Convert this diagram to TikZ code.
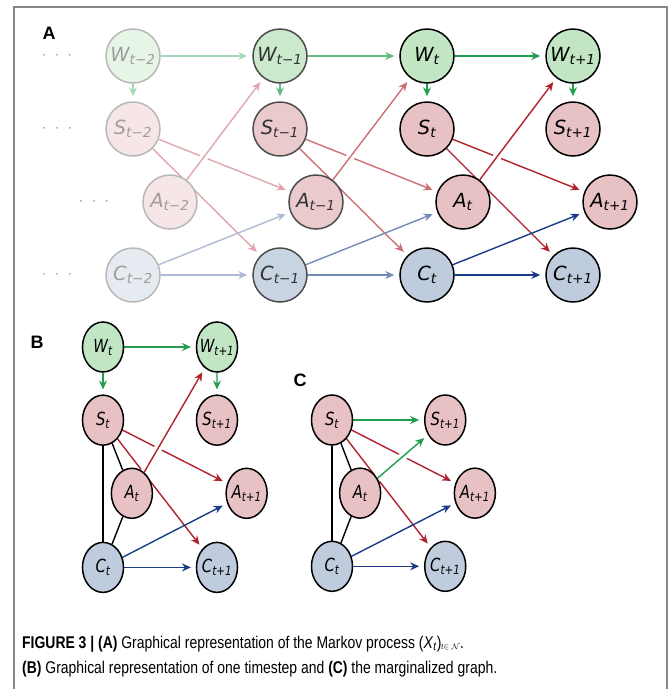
\documentclass[tikz,border=0pt]{standalone}
\usepackage{fontspec}
\usepackage{tikz}
\usetikzlibrary{arrows.meta,backgrounds}
\newfontfamily\capfont[FakeStretch=0.82]{Liberation Sans}
\newfontfamily\labfont{Liberation Sans}
\newfontfamily\varfont{DejaVu Sans}
\definecolor{mkgreen}{RGB}{30,158,78}
\definecolor{mkred}{RGB}{176,34,44}
\definecolor{mkblue}{RGB}{26,60,134}
\definecolor{gfill}{RGB}{194,229,195}
\definecolor{rfill}{RGB}{232,193,196}
\definecolor{bfill}{RGB}{191,204,221}
\definecolor{framegray}{RGB}{135,135,135}
\newcommand{\nv}[2]{#1\textsubscript{#2}}

\begin{document}
\begin{tikzpicture}[x=1pt, y=-1pt,
      vnode/.style={circle, minimum size=54pt, inner sep=0pt, line width=1.5pt, font=\varfont\itshape\fontsize{19.5}{24}\selectfont},
      far/.style={draw=black!28, text=black!38},
      mid/.style={draw=black!70, text=black!80},
      now/.style={draw=black, text=black},
      arr/.style={draw=#1, line width=1.4pt, -{Stealth[length=9pt,width=8pt,inset=3pt]}, shorten >=5pt},
      halo/.style={preaction={draw=white, line width=8pt, -}},
      link/.style={draw=black, line width=1.4pt},
      dots/.style={text=black!55, font=\fontsize{18}{18}\selectfont},
      panel/.style={font=\labfont\bfseries\fontsize{18}{18}\selectfont},
      captext/.style={anchor=base west, inner sep=0pt, font=\capfont\fontsize{17}{20}\selectfont}
    ]
      \useasboundingbox (0,0) rectangle (672,689);
      \draw[framegray, line width=1.2pt] (14,689) -- (14,7) -- (667,7) -- (667,689);

      % Panel A
      \node[panel] (labA) at (49,33) {A};
      \node[dots] (dotsW) at (57,58) {···};
      \node[dots] (dotsS) at (57,131) {···};
      \node[dots] (dotsA) at (94,204) {···};
      \node[dots] (dotsC) at (57,277) {···};

      \node[vnode, far, fill=gfill!40] (w0) at (133,56) {\nv{W}{t−2}};
      \node[vnode, mid, fill=gfill!85] (w1) at (280,56) {\nv{W}{t−1}};
      \node[vnode, now, fill=gfill] (w2) at (427,56) {\nv{W}{t}};
      \node[vnode, now, fill=gfill] (w3) at (573,56) {\nv{W}{t+1}};

      \node[vnode, far, fill=rfill!40] (s0) at (133,129) {\nv{S}{t−2}};
      \node[vnode, mid, fill=rfill!85] (s1) at (280,129) {\nv{S}{t−1}};
      \node[vnode, now, fill=rfill] (s2) at (427,129) {\nv{S}{t}};
      \node[vnode, now, fill=rfill] (s3) at (573,129) {\nv{S}{t+1}};

      \node[vnode, far, fill=rfill!40] (a0) at (170,202) {\nv{A}{t−2}};
      \node[vnode, mid, fill=rfill!85] (a1) at (316,202) {\nv{A}{t−1}};
      \node[vnode, now, fill=rfill] (a2) at (463,202) {\nv{A}{t}};
      \node[vnode, now, fill=rfill] (a3) at (610,202) {\nv{A}{t+1}};

      \node[vnode, far, fill=bfill!40] (c0) at (133,275) {\nv{C}{t−2}};
      \node[vnode, mid, fill=bfill!85] (c1) at (280,275) {\nv{C}{t−1}};
      \node[vnode, now, fill=bfill] (c2) at (427,275) {\nv{C}{t}};
      \node[vnode, now, fill=bfill] (c3) at (573,275) {\nv{C}{t+1}};

      % Panel B
      \node[panel] (labB) at (37,342) {B};
      \begin{scope}[shift={(103,347)}, xscale=0.76, yscale=0.926, transform shape]
        \node[vnode, now, fill=gfill] (wb0) at (0,0) {\nv{W}{t}};
        \node[vnode, now, fill=gfill] (wb1) at (150,0) {\nv{W}{t+1}};
        \node[vnode, now, fill=rfill] (sb0) at (0,79) {\nv{S}{t}};
        \node[vnode, now, fill=rfill] (sb1) at (150,79) {\nv{S}{t+1}};
        \node[vnode, now, fill=rfill] (ab0) at (38,158) {\nv{A}{t}};
        \node[vnode, now, fill=rfill] (ab1) at (189,158) {\nv{A}{t+1}};
        \node[vnode, now, fill=bfill] (cb0) at (0,238) {\nv{C}{t}};
        \node[vnode, now, fill=bfill] (cb1) at (150,238) {\nv{C}{t+1}};
      \end{scope}

      % Panel C
      \node[panel] (labC) at (300,380) {C};
      \begin{scope}[shift={(332,420)}, xscale=0.76, yscale=0.926, transform shape]
        \node[vnode, now, fill=rfill] (sc0) at (0,0) {\nv{S}{t}};
        \node[vnode, now, fill=rfill] (sc1) at (149,0) {\nv{S}{t+1}};
        \node[vnode, now, fill=rfill] (ac0) at (37,79) {\nv{A}{t}};
        \node[vnode, now, fill=rfill] (ac1) at (188,79) {\nv{A}{t+1}};
        \node[vnode, now, fill=bfill] (cc0) at (0,158) {\nv{C}{t}};
        \node[vnode, now, fill=bfill] (cc1) at (149,158) {\nv{C}{t+1}};
      \end{scope}

      % caption
      \node[captext] (cap1) at (22,648) {\textbf{FIGURE 3 | (A)} Graphical representation of the Markov process (\textit{X}\textsubscript{\textit{t}}){\fontsize{12}{12}\selectfont\textsubscript{\textit{t}$\in\mathcal{N}$}}.};
      \node[captext] (cap2) at (22,673) {\textbf{(B)} Graphical representation of one timestep and \textbf{(C)} the marginalized graph.};

      % connectors
      \begin{scope}[on background layer]
        % A: t-2
        \draw[arr=mkgreen!40] (w0) -- (w1);
        \draw[arr=mkgreen!40] (w0) -- (s0);
        \draw[arr=mkred!40] (s0) -- (a1);
        \draw[arr=mkred!40] (s0) -- (c1);
        \draw[arr=mkblue!35] (c0) -- (c1);
        \draw[arr=mkblue!35] (c0) -- (a1);
        \draw[arr=mkred!40, halo] (a0) -- (w1);
        % A: t-1
        \draw[arr=mkgreen!70] (w1) -- (w2);
        \draw[arr=mkgreen!70] (w1) -- (s1);
        \draw[arr=mkred!65] (s1) -- (a2);
        \draw[arr=mkred!65] (s1) -- (c2);
        \draw[arr=mkblue!60] (c1) -- (c2);
        \draw[arr=mkblue!60] (c1) -- (a2);
        \draw[arr=mkred!65, halo] (a1) -- (w2);
        % A: t
        \draw[arr=mkgreen] (w2) -- (w3);
        \draw[arr=mkgreen] (w2) -- (s2);
        \draw[arr=mkgreen] (w3) -- (s3);
        \draw[arr=mkred] (s2) -- (a3);
        \draw[arr=mkred] (s2) -- (c3);
        \draw[arr=mkblue] (c2) -- (c3);
        \draw[arr=mkblue] (c2) -- (a3);
        \draw[arr=mkred, halo] (a2) -- (w3);
        % B
        \draw[link] (sb0) -- (cb0);
        \draw[link] (sb0) -- (ab0);
        \draw[link] (ab0) -- (cb0);
        \draw[arr=mkgreen] (wb0) -- (wb1);
        \draw[arr=mkgreen] (wb0) -- (sb0);
        \draw[arr=mkgreen] (wb1) -- (sb1);
        \draw[arr=mkred] (sb0) -- (ab1);
        \draw[arr=mkred] (sb0) -- (cb1);
        \draw[arr=mkblue] (cb0) -- (cb1);
        \draw[arr=mkblue] (cb0) -- (ab1);
        \draw[arr=mkred, halo] (ab0) -- (wb1);
        % C
        \draw[link] (sc0) -- (cc0);
        \draw[link] (sc0) -- (ac0);
        \draw[link] (ac0) -- (cc0);
        \draw[arr=mkgreen] (sc0) -- (sc1);
        \draw[arr=mkred] (sc0) -- (ac1);
        \draw[arr=mkred] (sc0) -- (cc1);
        \draw[arr=mkblue] (cc0) -- (cc1);
        \draw[arr=mkblue] (cc0) -- (ac1);
        \draw[arr=mkgreen, halo] (ac0) -- (sc1);
      \end{scope}
    \end{tikzpicture}
\end{document}
